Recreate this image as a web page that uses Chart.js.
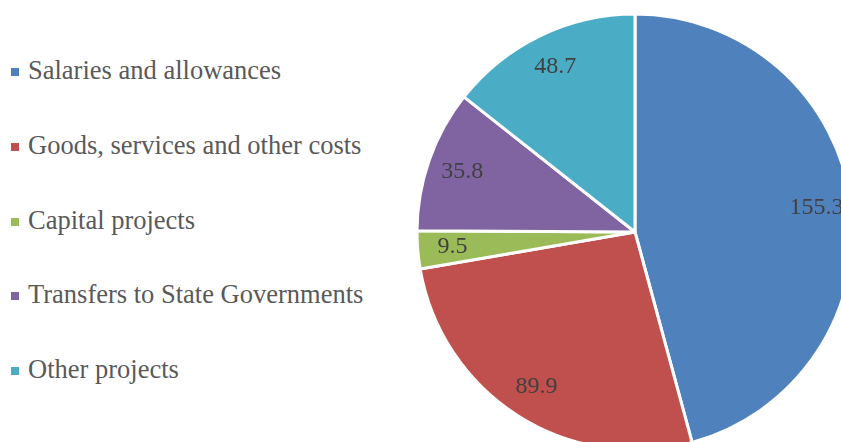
<!DOCTYPE html>
<html>
<head>
<meta charset="utf-8">
<script src="https://cdn.jsdelivr.net/npm/chart.js@4"></script>
<style>
  html, body { margin: 0; padding: 0; background: #fff; overflow: hidden; }
  body { width: 841px; height: 442px; position: relative; }
  #chart { position: absolute; left: 405px; top: 2px; }
  .legend { position: absolute; left: 0; top: 0; font-family: "Times New Roman", "Liberation Serif", serif; font-size: 26.5px; color: #595959; }
  .legend div { position: absolute; left: 11px; white-space: nowrap; line-height: 30px; }
  .legend span.box { display: inline-block; width: 8px; height: 8px; margin-right: 9px; vertical-align: 3px; }
</style>
</head>
<body>
<div class="legend" id="legend"></div>
<canvas id="chart" width="460" height="460"></canvas>
<script>
const categories = ['Salaries and allowances', 'Goods, services and other costs', 'Capital projects', 'Transfers to State Governments', 'Other projects']
const values = [155.3, 89.9, 9.5, 35.8, 48.7]
const colors = ['#4F81BD', '#C0504D', '#9BBB59', '#8064A2', '#4BACC6']

// legend rows, left side
const legend = document.getElementById('legend')
categories.forEach((name, i) => {
    const row = document.createElement('div')
    row.style.top = (55 + i * 74.8) + 'px'
    row.innerHTML = '<span class="box" style="background:' + colors[i] + '"></span>' + name
    legend.appendChild(row)
})

// value labels inside the slices
const sliceLabels = {
    id: 'sliceLabels',
    afterDatasetsDraw(chart){
        const ctx = chart.ctx
        const meta = chart.getDatasetMeta(0)
        ctx.save()
        ctx.font = '24px "Times New Roman", "Liberation Serif", serif'
        ctx.fillStyle = '#404040'
        ctx.textAlign = 'center'
        ctx.textBaseline = 'middle'
        meta.data.forEach((arc, i) => {
            const p = arc.getProps(['x', 'y', 'startAngle', 'endAngle', 'outerRadius'], true)
            const mid = (p.startAngle + p.endAngle) / 2
            const r = p.outerRadius * 0.84
            ctx.fillText(values[i].toFixed(1), p.x + Math.cos(mid) * r, p.y + Math.sin(mid) * r)
        })
        ctx.restore()
    }
}

const config = {
    type: 'pie',
    data: {
        labels: categories,
        datasets: [{
            data: values,
            backgroundColor: colors,
            borderColor: '#ffffff',
            borderWidth: 3,
            radius: 218,
            hoverOffset: 0
        }]
    },
    options: {
        responsive: false,
        animation: false,
        layout: { padding: 0 },
        plugins: {
            legend: { display: false },
            tooltip: { enabled: false }
        }
    },
    plugins: [sliceLabels]
}
new Chart(document.getElementById('chart').getContext('2d'), config)
</script>
</body>
</html>
